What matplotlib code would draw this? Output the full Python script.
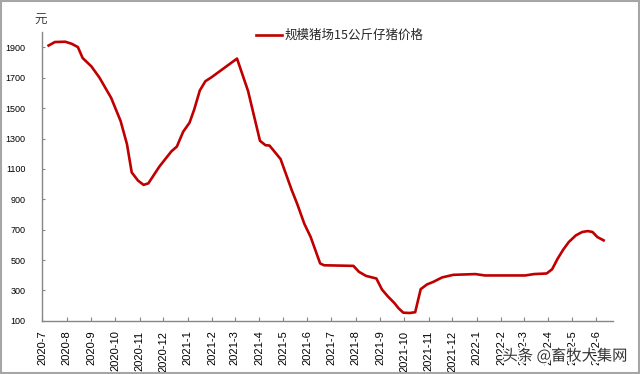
import datetime as dt
import matplotlib
matplotlib.use('Agg')
import matplotlib.pyplot as plt
import matplotlib.dates as mdates
import matplotlib.patheffects as pe
from matplotlib.patches import Rectangle

plt.rcParams['font.family'] = ['Noto Sans CJK SC', 'DejaVu Sans']

# 规模猪场15公斤仔猪价格 (元/头)
dates = ['2020-07-09', '2020-07-17', '2020-07-30', '2020-08-07', '2020-08-15', '2020-08-21',
         '2020-09-01', '2020-09-11', '2020-09-26', '2020-10-08', '2020-10-16', '2020-10-22',
         '2020-10-30', '2020-11-06', '2020-11-12', '2020-11-26', '2020-12-11', '2020-12-18',
         '2020-12-26', '2021-01-03', '2021-01-09', '2021-01-16', '2021-01-23', '2021-01-31',
         '2021-03-04', '2021-03-18', '2021-04-02', '2021-04-09', '2021-04-14', '2021-04-28',
         '2021-05-12', '2021-05-19', '2021-05-28', '2021-06-05', '2021-06-17', '2021-06-22',
         '2021-07-29', '2021-08-05', '2021-08-14', '2021-08-27', '2021-09-03', '2021-09-10',
         '2021-09-19', '2021-09-24', '2021-09-30', '2021-10-08', '2021-10-15', '2021-10-22',
         '2021-10-30', '2021-11-07', '2021-11-18', '2021-12-02', '2021-12-30', '2022-01-11',
         '2022-02-02', '2022-03-03', '2022-03-14', '2022-03-30', '2022-04-06', '2022-04-13',
         '2022-04-20', '2022-04-27', '2022-05-06', '2022-05-14', '2022-05-21', '2022-05-27',
         '2022-06-02', '2022-06-10']
prices = [1912, 1935, 1937, 1924, 1902, 1830,
          1775, 1703, 1568, 1415, 1263, 1077,
          1023, 995, 1005, 1116, 1215, 1247,
          1345, 1404, 1492, 1616, 1677, 1704,
          1826, 1612, 1285, 1256, 1254, 1165,
          962, 870, 739, 652, 478, 466,
          462, 423, 396, 379, 307, 264,
          216, 183, 154, 152, 157, 309,
          340, 357, 386, 403, 408, 399,
          399, 399, 408, 412, 440, 510,
          569, 619, 663, 685, 691, 685,
          652, 630]
series_name = '规模猪场15公斤仔猪价格'
y_ticks = [100, 300, 500, 700, 900, 1100, 1300, 1500, 1700, 1900]

x = [dt.datetime.strptime(d, '%Y-%m-%d') for d in dates]
month_ticks = [dt.datetime(2020 + (6 + i) // 12, (6 + i) % 12 + 1, 1) for i in range(24)]

fig = plt.figure(figsize=(6.4, 3.74), dpi=100)
ax = fig.add_axes([0.066, 0.142, 0.892, 0.772])

ax.plot(x, prices, color='#C00000', lw=1.9, label=series_name)

ax.set_ylim(100, 2000)
ax.set_xlim(dt.datetime(2020, 7, 1), dt.datetime(2022, 6, 22))
ax.set_yticks(y_ticks)
ax.set_xticks(month_ticks)
ax.xaxis.set_major_formatter(plt.FuncFormatter(
    lambda v, p: '{}-{}'.format(mdates.num2date(v).year, mdates.num2date(v).month)))

for side in ['top', 'right']:
    ax.spines[side].set_visible(False)
for side in ['left', 'bottom']:
    ax.spines[side].set_color('#868686')
    ax.spines[side].set_linewidth(1.0)

ax.tick_params(axis='y', direction='in', length=2, color='#868686', pad=12)
ax.tick_params(axis='x', direction='in', length=3, color='#868686', pad=7)
for lab in ax.get_yticklabels():
    lab.set_family(['Liberation Sans', 'DejaVu Sans'])
    lab.set_fontsize(6.5)
for lab in ax.get_xticklabels():
    lab.set_family(['Liberation Sans', 'DejaVu Sans'])
    lab.set_fontsize(8)
    lab.set_rotation(90)
    lab.set_va('top')
    lab.set_ha('center')

fig.text(0.064, 0.945, '元', fontsize=9, ha='center', va='center', color='#404040')

leg = ax.legend(loc='upper left', bbox_to_anchor=(0.355, 1.05), frameon=False,
                fontsize=9, handlelength=2.1, handletextpad=0.15)
for t in leg.get_texts():
    t.set_color('#262626')

# watermark
fig.text(0.98, 0.048, '头条 @畜牧大集网', fontsize=11, ha='right', va='center', color='#333333',
         path_effects=[pe.withStroke(linewidth=2.5, foreground='white')])

# outer grey frame
fig.patches.append(Rectangle((0.001, 0.002), 0.997, 0.995, transform=fig.transFigure,
                             fill=False, edgecolor='#A6A6A6', lw=1.5))

fig.savefig('out.png', dpi=100)
